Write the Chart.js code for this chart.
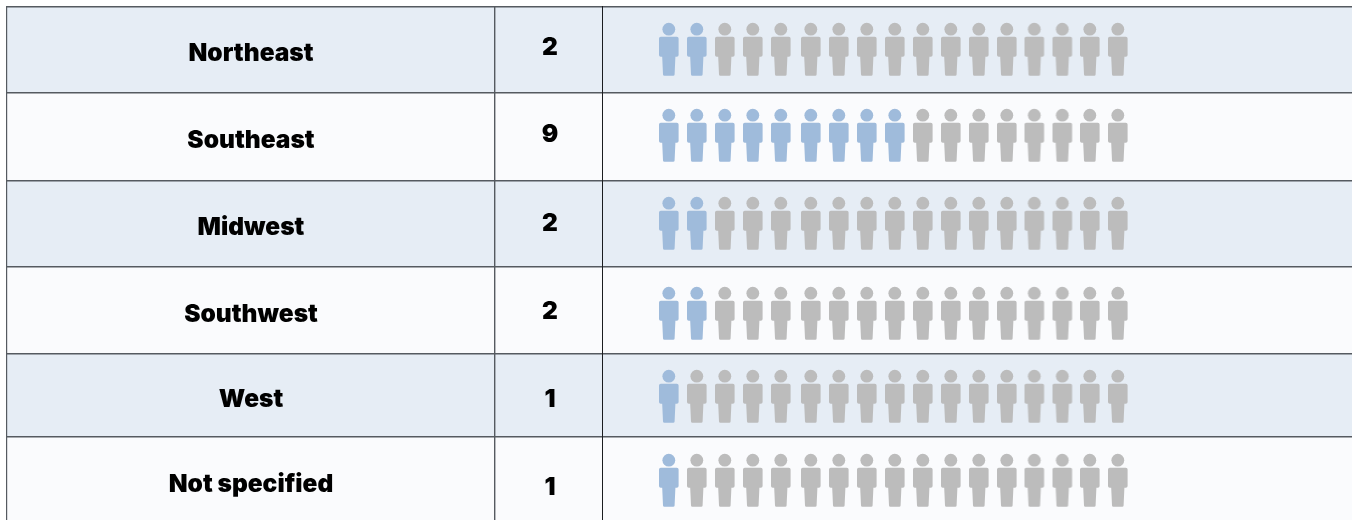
<!DOCTYPE html>
<html><head><meta charset="utf-8">
<style>html,body{margin:0;padding:0;background:#fff}#w{width:1352px;height:520px}canvas{display:block}</style>
<script src="https://cdn.jsdelivr.net/npm/chart.js@4"></script>
</head><body><div id="w"><canvas id="c"></canvas></div>
<script>
const regions = ["Northeast","Southeast","Midwest","Southwest","West","Not specified"];
const counts = [2,9,2,2,1,1];
const iconsPerRow = 17;

// table layout, in units of the two linear scales (1352 wide, 520 high)
const rowEdges = [7,93,181,267,354,437,521];
const iconRowY = [49,135,223,313,396,480];
const labelRowY = [54,141,228,315,400,485];
const countRowY = [48,135,224,312,400,488];
const iconColX = [669,697,725,753,781,811,839,867,895,923,951,979,1007,1034.5,1062.5,1090,1118];

function person(color){
  const c=document.createElement('canvas');c.width=24;c.height=56;
  const g=c.getContext('2d');g.fillStyle=color;
  g.beginPath();g.arc(11.8,8.2,6.4,0,Math.PI*2);g.fill();
  g.beginPath();
  g.moveTo(3.8,15.8);g.quadraticCurveTo(2,15.8,2,17.6);
  g.lineTo(2,34);g.quadraticCurveTo(2,35.8,3.8,35.8);
  g.lineTo(5.2,35.8);g.lineTo(6,53.4);g.quadraticCurveTo(6.1,54.8,7.4,54.8);
  g.lineTo(16.2,54.8);g.quadraticCurveTo(17.5,54.8,17.6,53.4);
  g.lineTo(18.4,35.8);g.lineTo(19.8,35.8);g.quadraticCurveTo(21.6,35.8,21.6,34);
  g.lineTo(21.6,17.6);g.quadraticCurveTo(21.6,15.8,19.8,15.8);g.closePath();g.fill();
  return c;
}
const blue=person('#9fbbdb'), gray=person('#bcbcbc');

const filled=[],empty=[];
regions.forEach((r,i)=>{for(let k=0;k<iconsPerRow;k++){
  (k<counts[i]?filled:empty).push({x:iconColX[k],y:iconRowY[i]});}});

const tablePlugin={id:'table',
  beforeDatasetsDraw(ch){
    const g=ch.ctx,ys=ch.scales.y,W=ch.width;
    g.save();
    regions.forEach((r,i)=>{
      const t=ys.getPixelForValue(rowEdges[i]),b=ys.getPixelForValue(rowEdges[i+1]);
      g.fillStyle=i%2?'#fafbfd':'#e6edf5';g.fillRect(7,t,W-7,b-t);
    });
    g.fillStyle='#555a60';
    rowEdges.slice(0,-1).forEach(e=>{g.fillRect(6,ys.getPixelForValue(e)-1,W-6,1.5);});
    g.fillRect(6,6,1.2,514);
    g.fillRect(494,6,1.4,514);
    g.fillStyle='#1b1d20';g.fillRect(602,6,1,514);
    g.restore();
  },
  afterDatasetsDraw(ch){
    const g=ch.ctx,ys=ch.scales.y;
    g.save();g.fillStyle='#000';g.textAlign='center';g.textBaseline='middle';
    g.font='900 24.5px Inter';
    regions.forEach((r,i)=>g.fillText(r,251,ys.getPixelForValue(labelRowY[i])));
    counts.forEach((v,i)=>g.fillText(String(v),550,ys.getPixelForValue(countRowY[i])));
    g.restore();
  }};

new Chart(document.getElementById('c'),{
  type:'scatter',
  data:{datasets:[
    {label:'Counted',data:filled,pointStyle:blue,pointRadius:14,pointHoverRadius:14},
    {label:'Remaining',data:empty,pointStyle:gray,pointRadius:14,pointHoverRadius:14}
  ]},
  options:{
    responsive:true,maintainAspectRatio:false,animation:false,
    layout:{padding:0,autoPadding:false},
    plugins:{legend:{display:false},tooltip:{enabled:false}},
    scales:{
      x:{type:'linear',display:false,min:0,max:1352},
      y:{type:'linear',display:false,reverse:true,min:0,max:520}
    }
  },
  plugins:[tablePlugin]
});
</script></body></html>
